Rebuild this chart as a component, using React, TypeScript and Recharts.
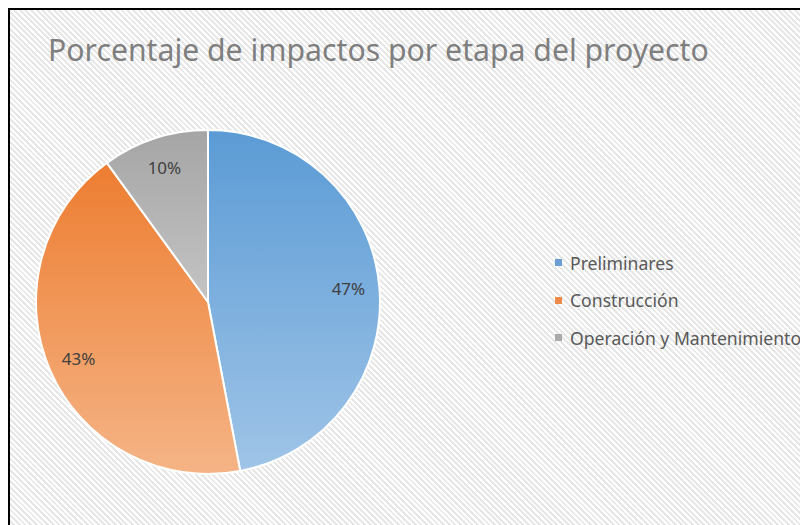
import { Cell, Legend, Pie, PieChart } from 'recharts'

// Datos
const etapas = ['Preliminares', 'Construcción', 'Operación y Mantenimiento']
const porcentajes = [47, 43, 10]

const gradientes = [
  { id: 'gPre', top: '#5b9bd5', bottom: '#9fc4e7' },
  { id: 'gCon', top: '#ed7d31', bottom: '#f5b486' },
  { id: 'gOpe', top: '#a5a5a5', bottom: '#c4c4c4' }
]
const colorLeyenda = ['#6a9fd6', '#ee8a4a', '#aaaaaa']

const data = etapas.map((name, i) => ({ name, value: porcentajes[i] }))

const RADIAN = Math.PI / 180
const font = '"Noto Sans", "Open Sans", sans-serif'

const renderLabel = (props: any) => {
  const { cx, cy, midAngle, outerRadius, value } = props
  const r = outerRadius * 0.82
  const x = cx + r * Math.cos(-midAngle * RADIAN)
  const y = cy + r * Math.sin(-midAngle * RADIAN)
  return (
    <text x={x} y={y} fill='#404040' fontSize={17} fontFamily={font} textAnchor='middle' dominantBaseline='central'>
      {`${value}%`}
    </text>
  )
}

const renderLegend = () => (
  <div style={{ fontFamily: font }}>
    {etapas.map((name, i) => (
      <div key={name} style={{ display: 'flex', alignItems: 'center', height: 37.5, whiteSpace: 'nowrap' }}>
        <span style={{ width: 7, height: 7, background: colorLeyenda[i], marginRight: 8, display: 'inline-block' }} />
        <span style={{ fontSize: 17.6, color: '#595959' }}>{name}</span>
      </div>
    ))}
  </div>
)

export default function App() {
  return (
    <div
      style={{
        position: 'fixed',
        left: 8,
        top: 8,
        width: 792,
        height: 517,
        overflow: 'hidden',
        borderTop: '2px solid #000',
        borderLeft: '2px solid #000',
        boxSizing: 'border-box',
        background: 'repeating-linear-gradient(45deg, #ffffff 0px, #ffffff 2px, #e7e7e7 2px, #e7e7e7 4px)'
      }}
    >
      <svg width={0} height={0} style={{ position: 'absolute' }}>
        <defs>
          {gradientes.map(g => (
            <linearGradient key={g.id} id={g.id} x1='0' y1='0' x2='0' y2='1'>
              <stop offset='0%' stopColor={g.top} />
              <stop offset='100%' stopColor={g.bottom} />
            </linearGradient>
          ))}
        </defs>
      </svg>
      <div
        style={{
          position: 'absolute',
          left: 38,
          top: 19,
          fontFamily: font,
          fontSize: 30.2,
          color: '#7f7f7f',
          whiteSpace: 'nowrap'
        }}
      >
        Porcentaje de impactos por etapa del proyecto
      </div>
      <PieChart width={820} height={515}>
        <Pie
          data={data}
          dataKey='value'
          nameKey='name'
          cx={193}
          cy={287}
          outerRadius={172}
          startAngle={90}
          endAngle={-270}
          stroke='#ffffff'
          strokeWidth={2}
          label={renderLabel}
          labelLine={false}
          isAnimationActive={false}
        >
          {data.map((d, i) => (
            <Cell key={d.name} fill={`url(#${gradientes[i].id})`} />
          ))}
        </Pie>
        <Legend
          content={renderLegend}
          layout='vertical'
          wrapperStyle={{ position: 'absolute', left: 545, top: 234, width: 280 }}
        />
      </PieChart>
    </div>
  )
}
